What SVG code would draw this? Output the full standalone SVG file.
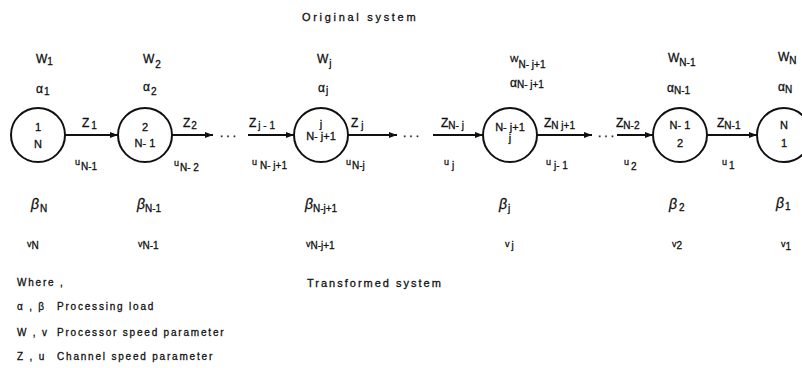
<svg xmlns="http://www.w3.org/2000/svg" width="802" height="368" viewBox="0 0 802 368">
<style>
text{font-family:"Liberation Sans","DejaVu Sans",sans-serif;fill:#111;stroke:#111;stroke-width:0.3;}
.t{font-size:11px;letter-spacing:2.7px;}
.t2{font-size:11px;letter-spacing:2px;}
.lg{font-size:10px;letter-spacing:1.8px;}
.m{font-size:12px;}
.b{font-size:14px;font-style:italic;}
.s{font-size:10px;font-style:normal;}
.sm{font-size:9px;}
.c{text-anchor:middle;font-size:11px;}
.node circle{fill:#fff;stroke:#111;stroke-width:2;}
.edge{stroke:#111;stroke-width:2;fill:none;}
.dots{font-size:12px;letter-spacing:3px;}
</style>
<defs>
<marker id="ah" markerUnits="userSpaceOnUse" markerWidth="9" markerHeight="7" refX="8" refY="3" orient="auto">
<path d="M0,0 L8,3 L0,6 z" fill="#111"/>
</marker>
</defs>

<text class="t" x="302" y="21">Original system</text>
<text class="t2" x="307" y="287">Transformed system</text>

<g id="connectors">
<line class="edge" x1="65" y1="135" x2="118" y2="135" marker-end="url(#ah)"/>
<line class="edge" x1="172" y1="135" x2="213" y2="135" marker-end="url(#ah)"/>
<text class="dots" x="220" y="137">...</text>
<line class="edge" x1="248" y1="135" x2="294" y2="135" marker-end="url(#ah)"/>
<line class="edge" x1="348" y1="135" x2="397" y2="135" marker-end="url(#ah)"/>
<text class="dots" x="403" y="137">...</text>
<line class="edge" x1="433" y1="135" x2="483" y2="135" marker-end="url(#ah)"/>
<line class="edge" x1="537" y1="135" x2="592" y2="135" marker-end="url(#ah)"/>
<text class="dots" x="598" y="137">...</text>
<line class="edge" x1="617" y1="135" x2="653" y2="135" marker-end="url(#ah)"/>
<line class="edge" x1="707" y1="135" x2="757" y2="135" marker-end="url(#ah)"/>

<text class="m" x="82" y="127">Z<tspan class="s" dx="2" dy="2">1</tspan></text>
<text class="m" x="183" y="127">Z<tspan class="s" dx="1" dy="2">2</tspan></text>
<text class="m" x="249" y="127">Z<tspan class="s" dx="2" dy="2">j - 1</tspan></text>
<text class="m" x="351" y="127">Z<tspan class="s" dx="3" dy="2">j</tspan></text>
<text class="m" x="441" y="127">Z<tspan class="s" dy="2">N- j</tspan></text>
<text class="m" x="544" y="127">Z<tspan class="s" dy="2">N  j+1</tspan></text>
<text class="m" x="616" y="127">Z<tspan class="s" dy="2">N-2</tspan></text>
<text class="m" x="717" y="127">Z<tspan class="s" dy="2">N-1</tspan></text>

<text class="sm" x="75" y="165">u<tspan class="s" dx="1" dy="5">N-1</tspan></text>
<text class="sm" x="174" y="166">u<tspan class="s" dx="1" dy="5">N- 2</tspan></text>
<text class="sm" x="252" y="165">u<tspan class="s" dx="3" dy="4">N- j+1</tspan></text>
<text class="sm" x="346" y="165">u<tspan class="s" dx="1" dy="4">N-j</tspan></text>
<text class="sm" x="444" y="165">u<tspan class="s" dx="3" dy="4">j</tspan></text>
<text class="sm" x="546" y="165">u<tspan class="s" dx="3" dy="4">j- 1</tspan></text>
<text class="sm" x="624" y="165">u<tspan class="s" dx="2" dy="5">2</tspan></text>
<text class="sm" x="722" y="165">u<tspan class="s" dx="2" dy="4">1</tspan></text>
</g>

<g id="node1" class="node">
<circle cx="38" cy="135" r="27"/>
<text class="c" x="38" y="131">1</text>
<text class="c" x="38" y="148">N</text>
<text class="m" x="36" y="63">W<tspan class="s" dy="2">1</tspan></text>
<text class="m" x="36" y="93">α<tspan class="s" dx="1" dy="2">1</tspan></text>
<text class="b" x="31" y="209">β<tspan class="s" dx="1" dy="3">N</tspan></text>
<text class="sm" x="27" y="247">v<tspan class="s" dy="2">N</tspan></text>
</g>

<g id="node2" class="node">
<circle cx="145" cy="135" r="27"/>
<text class="c" x="145" y="131">2</text>
<text class="c" x="145" y="147">N- 1</text>
<text class="m" x="143" y="63">W<tspan class="s" dx="1" dy="5">2</tspan></text>
<text class="m" x="143" y="91">α<tspan class="s" dx="1" dy="4">2</tspan></text>
<text class="b" x="137" y="209">β<tspan class="s" dy="3">N-1</tspan></text>
<text class="sm" x="138" y="247">v<tspan class="s" dy="2">N-1</tspan></text>
</g>

<g id="nodej" class="node">
<circle cx="321" cy="135" r="27"/>
<text class="c" x="321" y="128">j</text>
<text class="c" x="321" y="140">N- j+1</text>
<text class="m" x="317" y="63">W<tspan class="s" dx="1" dy="4">j</tspan></text>
<text class="m" x="318" y="92">α<tspan class="s" dx="1" dy="2">j</tspan></text>
<text class="b" x="305" y="209">β<tspan class="s" dy="3">N-j+1</tspan></text>
<text class="sm" x="306" y="247">v<tspan class="s" dy="2">N-j+1</tspan></text>
</g>

<g id="nodeNj1" class="node">
<circle cx="510" cy="135" r="27"/>
<text class="c" x="510" y="131">N- j+1</text>
<text class="c" x="510" y="142">j</text>
<text class="sm" x="510" y="62">W<tspan class="s" dy="6">N- j+1</tspan></text>
<text class="m" x="510" y="87">α<tspan class="s" dy="1">N- j+1</tspan></text>
<text class="b" x="499" y="209">β<tspan class="s" dx="1" dy="3">j</tspan></text>
<text class="sm" x="505" y="247">v<tspan class="s" dx="2" dy="2">j</tspan></text>
</g>

<g id="nodeN1" class="node">
<circle cx="680" cy="135" r="27"/>
<text class="c" x="680" y="129">N- 1</text>
<text class="c" x="680" y="147">2</text>
<text class="m" x="668" y="62">W<tspan class="s" dy="4">N-1</tspan></text>
<text class="m" x="667" y="92">α<tspan class="s" dy="2">N-1</tspan></text>
<text class="b" x="669" y="209">β<tspan class="s" dx="2" dy="2">2</tspan></text>
<text class="sm" x="672" y="247">v<tspan class="s" dy="2">2</tspan></text>
</g>

<g id="nodeN" class="node">
<circle cx="784" cy="135" r="27"/>
<text class="c" x="784" y="129">N</text>
<text class="c" x="784" y="147">1</text>
<text class="m" x="778" y="61">W<tspan class="s" dy="3">N</tspan></text>
<text class="m" x="778" y="91">α<tspan class="s" dy="2">N</tspan></text>
<text class="b" x="776" y="208">β<tspan class="s" dx="1" dy="2">1</tspan></text>
<text class="sm" x="781" y="247">v<tspan class="s" dy="3">1</tspan></text>
</g>

<g id="legend">
<text class="lg" x="17" y="286">Where ,</text>
<text class="lg" x="17" y="310">α , β</text>
<text class="lg" x="57" y="310">Processing load</text>
<text class="lg" x="17" y="336">W , v</text>
<text class="lg" x="57" y="336">Processor speed parameter</text>
<text class="lg" x="17" y="360">Z , u</text>
<text class="lg" x="57" y="360">Channel speed parameter</text>
</g>
</svg>
